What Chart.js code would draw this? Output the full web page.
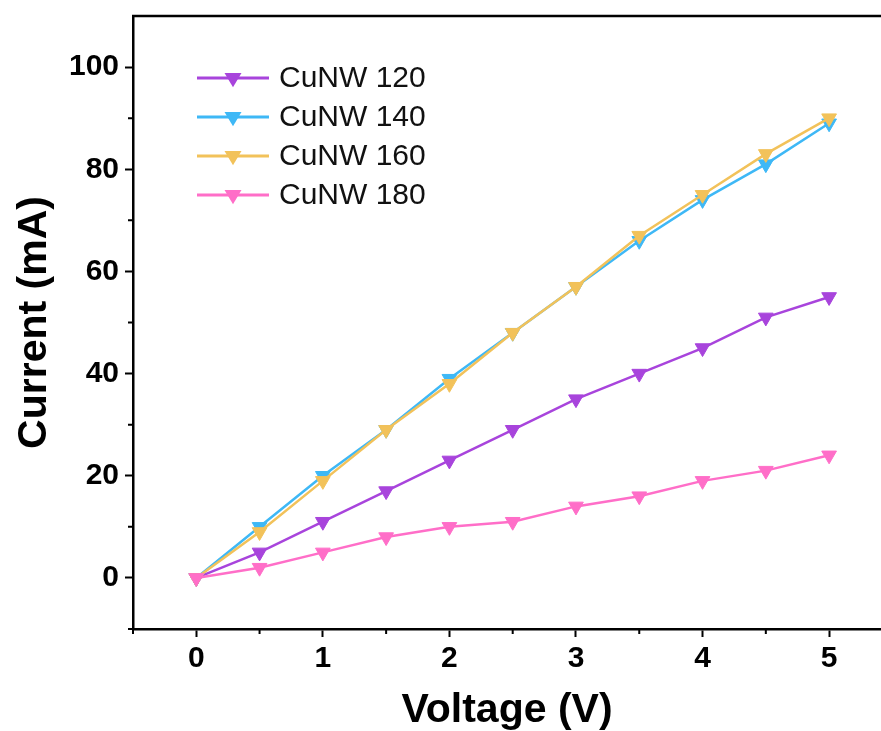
<!DOCTYPE html>
<html>
<head>
<meta charset="utf-8">
<script src="https://cdn.jsdelivr.net/npm/chart.js@4"></script>
<style>
  html, body { margin: 0; padding: 0; background: #fff; overflow: hidden; }
  #ivChart { display: block; }
</style>
</head>
<body>
<canvas id="ivChart" width="881" height="731"></canvas>
<script>
const voltage = [0, 0.5, 1, 1.5, 2, 2.5, 3, 3.5, 4, 4.5, 5];

const cunw120 = [0, 5, 11, 17, 23, 29, 35, 40, 45, 51, 55];
const cunw140 = [0, 10, 20, 29, 39, 48, 57, 66, 74, 81, 89];
const cunw160 = [0, 9, 19, 29, 38, 48, 57, 67, 75, 83, 90];
const cunw180 = [0, 2, 5, 8, 10, 11, 14, 16, 19, 21, 24];

const seriesNames = ['CuNW 120', 'CuNW 140', 'CuNW 160', 'CuNW 180'];
const seriesColors = ['#A844DC', '#3EB8F6', '#F2C25A', '#FF6EC8'];

const xTicks = [0, 1, 2, 3, 4, 5];
const xMinor = [-0.5, 0.5, 1.5, 2.5, 3.5, 4.5];
const yTicks = [0, 20, 40, 60, 80, 100];
const yMinor = [-10, 10, 30, 50, 70, 90];

const FONT = '"Liberation Sans", Arial, sans-serif';

function toPoints(ys) {
    return voltage.map((v, i) => ({ x: v, y: ys[i] }));
}

const allSeries = [cunw120, cunw140, cunw160, cunw180];

const datasets = allSeries.map((ys, i) => ({
    label: seriesNames[i],
    data: toPoints(ys),
    borderColor: seriesColors[i],
    backgroundColor: seriesColors[i],
    borderWidth: 2.5,
    pointStyle: 'triangle',
    rotation: 180,
    pointRadius: 8.5,
    pointBorderWidth: 1,
    order: 3 - i,
    tension: 0
}));

function noPad(s) {
    s.paddingTop = 0;
    s.paddingBottom = 0;
    s.paddingLeft = 0;
    s.paddingRight = 0;
}

// minor ticks, top frame line and the in-plot legend
const framePlugin = {
    id: 'frame',
    afterDraw(chart) {
        const ctx = chart.ctx;
        const area = chart.chartArea;
        const xs = chart.scales.x;
        const ys = chart.scales.y;
        ctx.save();
        ctx.strokeStyle = '#000';
        ctx.lineWidth = 2.5;
        ctx.beginPath();
        ctx.moveTo(area.left - 1, area.top);
        ctx.lineTo(area.right, area.top);
        ctx.stroke();

        ctx.lineWidth = 2;
        ctx.beginPath();
        xMinor.forEach(v => {
            const px = xs.getPixelForValue(v);
            ctx.moveTo(px, area.bottom);
            ctx.lineTo(px, area.bottom + 5);
        });
        yMinor.forEach(v => {
            const py = ys.getPixelForValue(v);
            ctx.moveTo(area.left, py);
            ctx.lineTo(area.left - 5, py);
        });
        ctx.stroke();
        ctx.restore();
    },
    afterDatasetsDraw(chart) {
        const ctx = chart.ctx;
        const area = chart.chartArea;
        const x0 = area.left + 64;
        const y0 = area.top + 62;
        ctx.save();
        chart.data.datasets.forEach((ds, i) => {
            const y = y0 + i * 39;
            ctx.strokeStyle = ds.borderColor;
            ctx.lineWidth = 3;
            ctx.beginPath();
            ctx.moveTo(x0, y);
            ctx.lineTo(x0 + 72, y);
            ctx.stroke();
            const cx = x0 + 36;
            const r = 8.5;
            ctx.fillStyle = ds.backgroundColor;
            ctx.beginPath();
            ctx.moveTo(cx - r, y - r * 0.6);
            ctx.lineTo(cx + r, y - r * 0.6);
            ctx.lineTo(cx, y + r * 1.1);
            ctx.closePath();
            ctx.fill();
            ctx.fillStyle = '#111';
            ctx.font = '30px ' + FONT;
            ctx.textBaseline = 'middle';
            ctx.textAlign = 'left';
            ctx.fillText(ds.label, x0 + 82, y + 1);
        });
        ctx.restore();
    }
};

const config = {
    type: 'line',
    data: { datasets: datasets },
    options: {
        responsive: false,
        animation: false,
        layout: { autoPadding: false, padding: { top: 16, right: 0, left: 0, bottom: 0 } },
        plugins: {
            legend: { display: false },
            tooltip: { enabled: false }
        },
        scales: {
            x: {
                type: 'linear',
                min: -0.5,
                max: 5.41,
                afterBuildTicks: s => { s.ticks = xTicks.map(v => ({ value: v })); },
                afterFit: s => { s.height = 102; noPad(s); },
                grid: {
                    drawOnChartArea: false,
                    drawTicks: true,
                    tickLength: 8,
                    tickWidth: 2,
                    tickColor: '#000'
                },
                border: { display: true, color: '#000', width: 2.5 },
                ticks: {
                    padding: 4,
                    color: '#000',
                    maxRotation: 0,
                    font: { family: FONT, size: 30, weight: 'bold' }
                },
                title: {
                    display: true,
                    text: 'Voltage (V)',
                    color: '#000',
                    padding: { top: 0, bottom: 0 },
                    font: { family: FONT, size: 41, weight: 'bold', lineHeight: 1 }
                }
            },
            y: {
                min: -10,
                max: 110,
                afterBuildTicks: s => { s.ticks = yTicks.map(v => ({ value: v })); },
                afterFit: s => { s.width = 133; noPad(s); },
                grid: {
                    drawOnChartArea: false,
                    drawTicks: true,
                    tickLength: 8,
                    tickWidth: 2,
                    tickColor: '#000'
                },
                border: { display: true, color: '#000', width: 2.5 },
                ticks: {
                    padding: 6,
                    color: '#000',
                    font: { family: FONT, size: 30, weight: 'bold' }
                },
                title: {
                    display: true,
                    text: 'Current (mA)',
                    color: '#000',
                    padding: { top: 14, bottom: 0 },
                    font: { family: FONT, size: 41, weight: 'bold', lineHeight: 1 }
                }
            }
        }
    },
    plugins: [framePlugin]
};

const ivChart = new Chart(document.getElementById('ivChart'), config);
</script>
</body>
</html>
